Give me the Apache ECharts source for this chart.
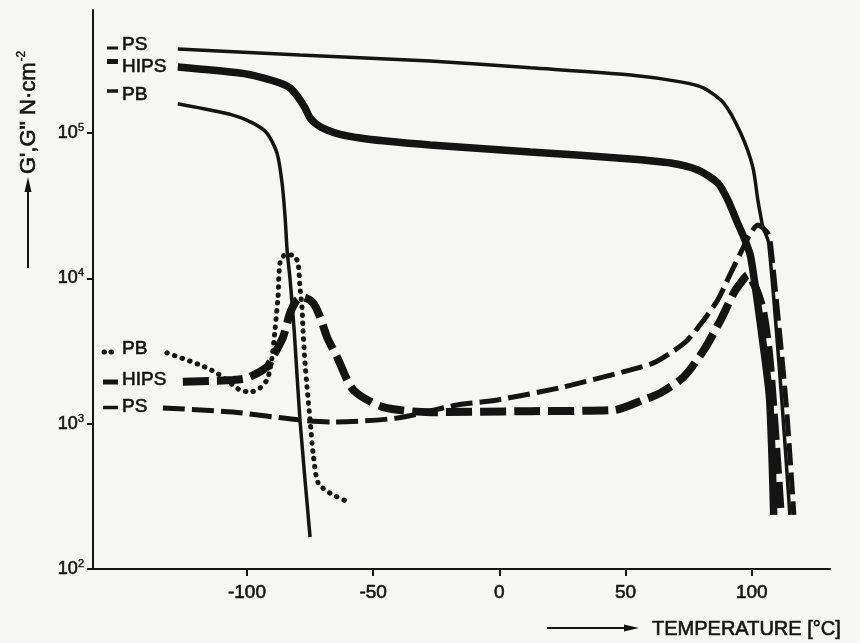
<!DOCTYPE html>
<html>
<head>
<meta charset="utf-8">
<script src="https://cdn.jsdelivr.net/npm/echarts@6/dist/echarts.min.js"></script>
<style>
  html, body { margin: 0; padding: 0; background: #f6f6f4; }
  #chart { width: 860px; height: 643px; }
</style>
</head>
<body>
<div id="chart"></div>
<script>
// ---- data (temperature °C, modulus N·cm^-2) ----
const xTicks = [-100, -50, 0, 50, 100];
const yTicks = [100, 1000, 10000, 100000];

// storage modulus G'
const psGp = [[-127.4,379000],[-79,344000],[-27.4,313000],[12.3,281000],[52,251000],[71.8,225000],[81,204000],[88.9,161000],[95.6,100000],[100.4,58500],[102.4,34700],[103.6,26500],[104.4,22600],[106.7,17500],[111.9,1455],[115.1,236]];
const hipsGp = [[-127.4,285000],[-102.8,259000],[-94.8,243000],[-86.9,221000],[-82.9,204000],[-79.8,177000],[-77.0,149000],[-75.0,127000],[-72.2,114000],[-68.3,105000],[-63.1,98000],[-55.2,92500],[-46,88500],[-27.4,82800],[12.3,74100],[52,66400],[67.9,62200],[78.6,55700],[86.5,45400],[90.5,34700],[94.4,24000],[96.8,19300],[99.6,14000],[104.8,3210],[107.1,1455],[108.7,236]];
const pbGp = [[-127.4,159000],[-105.6,133000],[-97.6,117000],[-92.1,100000],[-88.1,72900],[-86.1,45400],[-84.9,26500],[-84.1,15700],[-82.9,9750],[-81.3,4410],[-79,1060],[-75,166]];

// loss modulus G''
const psGpp = [[-133.3,1282],[-105.6,1202],[-79,1059],[-65.9,1028],[-40.5,1094],[-16.7,1345],[-0.8,1456],[25.4,1790],[52,2344],[61.1,2620],[67.9,3070],[74.6,3770],[81.0,5180],[86.5,7100],[91.7,10900],[95.6,15000],[99.6,20500],[102.4,23300],[106.3,20500],[107.5,17000],[113.5,1455],[116.7,236]];
const hipsGpp = [[-125.4,1940],[-105.6,2000],[-100,2060],[-92.1,2450],[-89.7,2880],[-85.7,3950],[-82.9,5780],[-80.2,7100],[-77.8,7450],[-73.8,6780],[-71.0,5420],[-68.3,3950],[-64.3,2880],[-57.9,1710],[-46,1300],[-27.4,1200],[12.3,1220],[45.2,1240],[57.1,1460],[63.9,1630],[73.0,2095],[81.0,3210],[87.7,5180],[92.9,7940],[95.6,9290],[98.4,10540],[101.6,8590],[104.4,6070],[107.1,2740],[111.5,236]];
const pbGpp = [[-131.7,3070],[-118.7,2540],[-111.9,2230],[-105.6,1850],[-102.8,1710],[-98.8,1650],[-94.8,1760],[-92.1,2000],[-90.9,2340],[-89.9,3000],[-88.9,4410],[-87.7,7450],[-86.9,12800],[-84.9,14500],[-81.7,14500],[-79.8,12800],[-79,8700],[-78.2,6350],[-77.8,4410],[-77,2620],[-76.2,1790],[-75,1060],[-73.8,628],[-71.8,391],[-67.1,333],[-59.9,289]];

const upperLabels = ['PS', 'HIPS', 'PB'];
const lowerLabels = ['PB', 'HIPS', 'PS'];

const INK = '#141414';
const FONT = '"Liberation Sans", Arial, Helvetica, sans-serif';
const THICK = { textBorderColor: INK, textBorderWidth: 0.6 };

function line(name, data, width, type, cap) {
  return {
    name: name, type: 'line', data: data, smooth: 0.25,
    symbol: 'none', showSymbol: false, silent: true,
    lineStyle: { color: INK, width: width, type: type || 'solid', cap: cap || 'butt' },
    z: 2
  };
}

const chart = echarts.init(document.getElementById('chart'), null, { renderer: 'canvas' });

function legendGroup(labels, ys, marks) {
  const els = [];
  labels.forEach((t, i) => {
    els.push({
      type: 'text', x: 122, y: ys[i],
      style: { text: t, fill: INK, stroke: INK, lineWidth: 0.6, fontFamily: FONT, fontSize: 19, align: 'left', verticalAlign: 'middle' }
    });
    const m = marks[i];
    els.push({
      type: 'line',
      shape: { x1: m.x1, y1: m.y, x2: 118, y2: m.y },
      style: { stroke: INK, lineWidth: m.w, lineDash: m.dash || null, lineCap: m.cap || 'butt' }
    });
  });
  return els;
}

const graphics = [].concat(
  legendGroup(upperLabels, [45, 67, 95], [
    { x1: 107, y: 48, w: 3 }, { x1: 107, y: 61.5, w: 5 }, { x1: 107, y: 91, w: 3.5 }
  ]),
  legendGroup(lowerLabels, [349, 380, 407], [
    { x1: 104, y: 352, w: 5, dash: [0.5, 6.5], cap: 'round' }, { x1: 103, y: 382, w: 5 }, { x1: 103, y: 407.5, w: 3.5 }
  ]),
  [
    // y-axis title arrow
    { type: 'line', shape: { x1: 28, y1: 268, x2: 28, y2: 188 }, style: { stroke: INK, lineWidth: 2 } },
    { type: 'polygon', shape: { points: [[28, 177], [24.5, 192], [31.5, 192]] }, style: { fill: INK } },
    {
      type: 'text', x: 29, y: 174, rotation: Math.PI / 2,
      style: {
        text: "{m|G',G'' N·cm}{s|-2}", fill: INK, align: 'left', verticalAlign: 'middle',
        rich: {
          m: { fontFamily: FONT, fontSize: 22, fill: INK, stroke: INK, lineWidth: 0.6 },
          s: { fontFamily: FONT, fontSize: 12, fill: INK, stroke: INK, lineWidth: 0.4, padding: [0, 0, 15, 1] }
        }
      }
    },
    // x-axis title arrow
    { type: 'line', shape: { x1: 547, y1: 628, x2: 626, y2: 628 }, style: { stroke: INK, lineWidth: 2 } },
    { type: 'polygon', shape: { points: [[639, 628], [624, 624.5], [624, 631.5]] }, style: { fill: INK } },
    {
      type: 'text', x: 652, y: 629,
      style: { text: 'TEMPERATURE [°C]', fill: INK, stroke: INK, lineWidth: 0.6, fontFamily: FONT, fontSize: 20, align: 'left', verticalAlign: 'middle' }
    }
  ]
);

chart.setOption({
  backgroundColor: '#f6f6f4',
  animation: false,
  grid: { left: 93, right: 30, top: 10, bottom: 74, containLabel: false },
  xAxis: {
    type: 'value', min: -161, max: 131,
    axisLine: { show: true, onZero: false, lineStyle: { color: INK, width: 2 } },
    axisTick: { show: true, inside: false, length: 7, customValues: xTicks, lineStyle: { color: INK, width: 2 } },
    axisLabel: Object.assign({ show: true, customValues: xTicks, margin: 14, color: INK, fontFamily: FONT, fontSize: 19 }, THICK),
    splitLine: { show: false }
  },
  yAxis: {
    type: 'log', logBase: 10, min: 100, max: 703000,
    axisLine: { show: true, onZero: false, lineStyle: { color: INK, width: 2 } },
    axisTick: { show: true, inside: false, length: 6, customValues: yTicks, lineStyle: { color: INK, width: 2 } },
    axisLabel: {
      show: true, customValues: yTicks, margin: 9, color: INK,
      formatter: function (v) { return '{a|10}{b|' + Math.round(Math.log10(v)) + '}'; },
      rich: {
        a: Object.assign({ fontFamily: FONT, fontSize: 18, color: INK }, THICK),
        b: { fontFamily: FONT, fontSize: 11, color: INK, padding: [0, 0, 10, 0], textBorderColor: INK, textBorderWidth: 0.4 }
      }
    },
    splitLine: { show: false },
    minorTick: { show: false }
  },
  series: [
    line("PS G'", psGp, 3.5),
    line("HIPS G'", hipsGp, 7.5),
    line("PB G'", pbGp, 3.5),
    line("PS G''", psGpp, 5, [22, 7]),
    line("HIPS G''", hipsGpp, 8, [26, 8]),
    line("PB G''", pbGpp, 5, [0.5, 7.5], 'round')
  ],
  graphic: graphics
});
</script>
</body>
</html>
